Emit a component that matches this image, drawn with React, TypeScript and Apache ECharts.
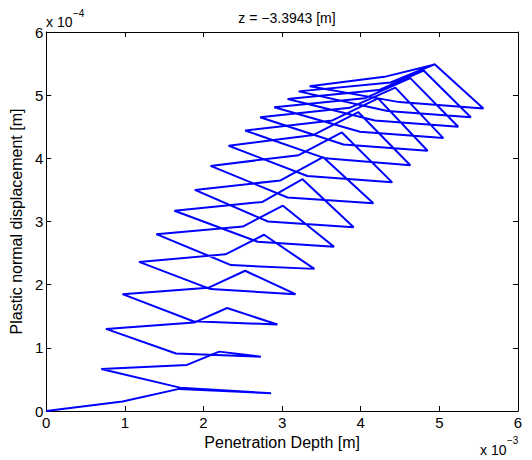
import { useEffect, useRef } from "react";
import * as echarts from "echarts";

// Penetration depth in units of 1e-3 m, plastic normal displacement in units of 1e-4 m
// Each loading cycle: valley (L) -> knee (A) -> peak (P) -> right end (R) -> return knee (B)
const valleyDepth = [0, 0.70, 0.76, 0.97, 1.18, 1.40, 1.63, 1.89, 2.09, 2.32, 2.53, 2.72, 2.90, 3.07, 3.21, 3.35];
const valleyDisp = [0, 0.665, 1.30, 1.85, 2.36, 2.80, 3.17, 3.50, 3.88, 4.20, 4.44, 4.65, 4.81, 4.94, 5.06, 5.14];
const kneeDepth = [0.97, 1.79, 1.88, 2.06, 2.28, 2.50, 2.75, 2.98, 3.21, 3.40, 3.64, 3.86, 4.05, 4.23, 4.38, 4.30];
const kneeDisp = [0.15, 0.73, 1.40, 1.95, 2.48, 2.92, 3.31, 3.65, 4.05, 4.37, 4.60, 4.80, 4.95, 5.08, 5.20, 5.29];
const peakDepth = [1.69, 2.20, 2.30, 2.53, 2.77, 3.01, 3.26, 3.52, 3.76, 3.97, 4.22, 4.44, 4.63, 4.80, 4.94];
const peakDisp = [0.35, 0.94, 1.63, 2.22, 2.79, 3.25, 3.67, 4.02, 4.41, 4.73, 4.95, 5.12, 5.27, 5.39, 5.49];
const rightDepth = [2.86, 2.73, 2.94, 3.17, 3.41, 3.66, 3.91, 4.16, 4.40, 4.63, 4.85, 5.05, 5.24, 5.40, 5.56];
const rightDisp = [0.28, 0.86, 1.37, 1.85, 2.25, 2.60, 2.91, 3.29, 3.62, 3.89, 4.12, 4.32, 4.50, 4.65, 4.79];
const returnDepth = [1.70, 1.65, 1.87, 2.09, 2.35, 2.69, 2.82, 3.07, 3.32, 3.55, 3.78, 3.99, 4.18, 4.34, 4.49];
const returnDisp = [0.37, 0.91, 1.42, 1.93, 2.31, 2.68, 3.00, 3.38, 3.72, 4.00, 4.22, 4.42, 4.60, 4.75, 4.89];
// last loading branch ends back at the top peak
const finalDepth = [4.93];
const finalDisp = [5.48];

const xTickLabels = ["0", "1", "2", "3", "4", "5", "6"];
const yTickLabels = ["0", "1", "2", "3", "4", "5", "6"];

const titleText = "z = \u22123.3943 [m]";
const xName = "Penetration Depth [m]";
const yName = "Plastic normal displacement [m]";

function buildPath(): number[][] {
  const pts: number[][] = [];
  for (let k = 0; k < peakDepth.length; k++) {
    pts.push([valleyDepth[k], valleyDisp[k]]);
    pts.push([kneeDepth[k], kneeDisp[k]]);
    pts.push([peakDepth[k], peakDisp[k]]);
    pts.push([rightDepth[k], rightDisp[k]]);
    pts.push([returnDepth[k], returnDisp[k]]);
  }
  const last = valleyDepth.length - 1;
  pts.push([valleyDepth[last], valleyDisp[last]]);
  pts.push([kneeDepth[last], kneeDisp[last]]);
  for (let i = 0; i < finalDepth.length; i++) pts.push([finalDepth[i], finalDisp[i]]);
  return pts;
}

const FONT = "'Liberation Sans', Arial, Helvetica, sans-serif";

export default function App() {
  const ref = useRef<HTMLDivElement>(null);
  useEffect(() => {
    if (!ref.current) return;
    const chart = echarts.init(ref.current, undefined, { renderer: "svg" });
    const axisCommon = {
      type: "value" as const,
      min: 0,
      max: 6,
      interval: 1,
      splitLine: { show: false },
      axisLine: { show: true, onZero: false, lineStyle: { color: "#000", width: 1 } },
      axisTick: { show: true, inside: true, length: 5, lineStyle: { color: "#000", width: 1 } },
    };
    chart.setOption({
      animation: false,
      textStyle: { fontFamily: FONT },
      title: {
        text: titleText,
        left: 282,
        top: 6,
        textAlign: "center",
        textStyle: { fontSize: 14, fontWeight: "normal", color: "#000", fontFamily: FONT },
      },
      grid: { left: 45, right: 14, top: 32, bottom: 49, containLabel: false },
      xAxis: [
        {
          ...axisCommon,
          position: "bottom",
          name: xName,
          nameLocation: "middle",
          nameGap: 22,
          nameTextStyle: { fontSize: 16, color: "#000", fontFamily: FONT },
          axisLabel: {
            show: true,
            margin: 4,
            fontSize: 15,
            color: "#000",
            fontFamily: FONT,
            formatter: (v: number) => xTickLabels[Math.round(v)] ?? "",
          },
        },
        {
          ...axisCommon,
          position: "top",
          axisLabel: { show: false },
        },
      ],
      yAxis: [
        {
          ...axisCommon,
          position: "left",
          name: yName,
          nameLocation: "middle",
          nameGap: 20,
          nameTextStyle: { fontSize: 16, color: "#000", fontFamily: FONT },
          axisLabel: {
            show: true,
            margin: 3,
            fontSize: 15,
            color: "#000",
            fontFamily: FONT,
            formatter: (v: number) => yTickLabels[Math.round(v)] ?? "",
          },
        },
        {
          ...axisCommon,
          position: "right",
          axisLabel: { show: false },
        },
      ],
      graphic: [
        { type: "text", left: 46, top: 15, style: { text: "x 10", font: `14px ${FONT}`, fill: "#000" } },
        { type: "text", left: 73, top: 8, style: { text: "\u22124", font: `10px ${FONT}`, fill: "#000" } },
        { type: "text", left: 480, top: 443, style: { text: "x 10", font: `14px ${FONT}`, fill: "#000" } },
        { type: "text", left: 507, top: 435, style: { text: "\u22123", font: `10px ${FONT}`, fill: "#000" } },
      ],
      series: [
        {
          type: "line",
          xAxisIndex: 0,
          yAxisIndex: 0,
          data: buildPath(),
          showSymbol: false,
          symbol: "none",
          lineStyle: { color: "#0000ff", width: 2 },
          itemStyle: { color: "#0000ff" },
          z: 1,
        },
      ],
    });
    return () => chart.dispose();
  }, []);
  return (
    <div
      ref={ref}
      style={{ position: "absolute", left: 0, top: 0, width: 532, height: 460, background: "#fff" }}
    />
  );
}
